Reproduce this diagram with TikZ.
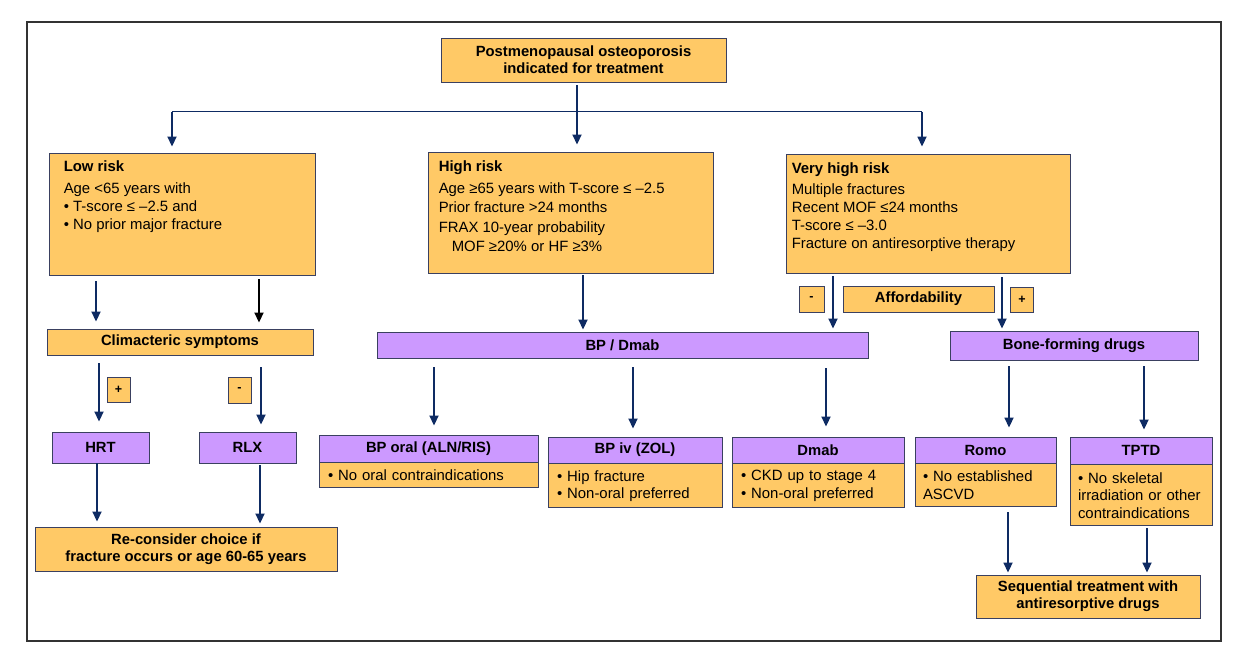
\documentclass[tikz,border=0pt]{standalone}
\usepackage{fontspec}
\setmainfont{Liberation Sans}
\usetikzlibrary{arrows.meta}
\definecolor{boxfill}{HTML}{FFC966}
\definecolor{drugfill}{HTML}{CC99FF}
\definecolor{edge}{HTML}{3A4060}
\definecolor{navy}{HTML}{0E2B63}
\definecolor{framec}{HTML}{333333}
\tikzset{
  obox/.style={draw=edge, fill=boxfill, line width=0.9pt, inner sep=0pt, align=center,
    font=\bfseries\fontsize{14.8}{17}\selectfont},
  pbox/.style={obox, fill=drugfill},
  sbox/.style={obox, font=\bfseries\fontsize{12.5}{14}\selectfont},
  lbox/.style={draw=edge, fill=boxfill, line width=0.9pt, inner ysep=0pt, inner xsep=9pt,
    align=left, anchor=north, font=\fontsize{14.9}{17.5}\selectfont},
  txt/.style={inner sep=0pt, anchor=north west, align=left, font=\fontsize{14.9}{18}\selectfont},
  arr/.style={draw=navy, line width=1.8pt, -{Triangle[width=9pt,length=10pt]}},
}
\begin{document}
\begin{tikzpicture}[x=1pt,y=-1pt]
  \useasboundingbox (0,0) rectangle (1238,658);
  \draw[framec,line width=1.1pt] (27,22) rectangle (1221,641);

  % Start and risk groups
  \node[obox, minimum width=285, minimum height=44] (top) at (583.5,60)
    {Postmenopausal osteoporosis\\indicated for treatment};
  \node[obox, minimum width=266, minimum height=122] (low) at (182,214) {};
  \node[obox, minimum width=285, minimum height=121] (high) at (570.5,212.5) {};
  \node[obox, minimum width=284, minimum height=119] (vhigh) at (928,213.5) {};
  \node[txt] (lowtxt) at ([xshift=15,yshift=-8.4]low.north west)
    {\textbf{Low risk}\\[4pt] Age <65 years with\\ • T-score ≤ –2.5 and\\ • No prior major fracture};
  \node[txt, font=\fontsize{14.9}{19.5}\selectfont] (hightxt) at ([xshift=11,yshift=-8.5]high.north west)
    {\textbf{High risk}\\[2.5pt] Age ≥65 years with T-score ≤ –2.5\\ Prior fracture >24 months\\
     FRAX 10-year probability\\ \hspace*{13pt}MOF ≥20\% or HF ≥3\%};
  \node[txt] (vhightxt) at ([xshift=6,yshift=-9.4]vhigh.north west)
    {\textbf{Very high risk}\\[3pt] Multiple fractures\\ Recent MOF ≤24 months\\ T-score ≤ –3.0\\
     Fracture on antiresorptive therapy};

  \coordinate (brL) at (172,112);
  \coordinate (brR) at (922,112);
  \draw[navy, line width=1pt] (brL) -- (brR);
  \draw[arr, shorten <=3pt, shorten >=7pt] ([xshift=-6.5]top.south) -- ([xshift=6.5]high.north);
  \draw[arr, shorten >=6pt] (brL) -- ([xshift=-10]low.north);
  \draw[arr, shorten >=7pt] (brR) -- ([xshift=-6]vhigh.north);

  % Low risk branch
  \node[obox, minimum width=266, minimum height=26] (clim) at (180,342) {Climacteric symptoms};
  \node[sbox, minimum width=23, minimum height=25] (cplus) at (118.5,389.5) {+};
  \node[sbox, minimum width=23, minimum height=26] (cminus) at (239.5,390) {-};
  \node[pbox, minimum width=97, minimum height=31] (hrt) at (100.5,447.5) {HRT};
  \node[pbox, minimum width=97, minimum height=31] (rlx) at (247.5,447.5) {RLX};
  \node[obox, minimum width=302, minimum height=44] (recon) at (186,549)
    {Re-consider choice if\\fracture occurs or age 60-65 years};

  \draw[arr, shorten <=6pt, shorten >=7pt] ([xshift=-86]low.south) -- ([xshift=-84]clim.north);
  \draw[arr, draw=black, shorten <=4pt, shorten >=6pt] ([xshift=77]low.south) -- ([xshift=79]clim.north);
  \draw[arr, shorten <=8pt, shorten >=10pt] ([xshift=-81]clim.south) -- ([xshift=-1.5]hrt.north);
  \draw[arr, shorten <=12pt, shorten >=7pt] ([xshift=81]clim.south) -- ([xshift=13.5]rlx.north);
  \draw[arr, shorten >=5pt] ([xshift=-3.5]hrt.south) -- ([xshift=-89]recon.north);
  \draw[arr, shorten <=2pt, shorten >=3pt] ([xshift=12.5]rlx.south) -- ([xshift=74]recon.north);

  % Antiresorptive and anabolic options
  \node[pbox, minimum width=491, minimum height=26] (bpdmab) at (622.5,345) {BP / Dmab};
  \node[sbox, minimum width=25, minimum height=26] (vminus) at (811.5,299) {-};
  \node[obox, minimum width=151, minimum height=26] (afford) at (918.5,299) {Affordability};
  \node[sbox, minimum width=23, minimum height=25] (vplus) at (1022,299.5) {+};
  \node[pbox, minimum width=248, minimum height=29] (bone) at (1074,345.5) {Bone-forming drugs};

  \draw[arr, shorten <=2pt, shorten >=2pt] ([xshift=12.5]high.south) -- ([xshift=-39.5]bpdmab.north);
  \draw[arr, shorten <=3pt, shorten >=3pt] ([xshift=-95]vhigh.south) -- ([xshift=210.5]bpdmab.north);
  \draw[arr, shorten <=4pt, shorten >=2pt] ([xshift=74]vhigh.south) -- ([xshift=-72]bone.north);

  \node[pbox, minimum width=219, minimum height=27] (bporal) at (428.5,448.5) {BP oral (ALN/RIS)};
  \node[lbox, minimum width=219, text width=201, minimum height=25] (bporalb) at (bporal.south)
    {• No oral contraindications};
  \node[pbox, minimum width=174, minimum height=26] (bpiv) at (635,450) {BP iv (ZOL)};
  \node[lbox, minimum width=174, text width=156, minimum height=44] (bpivb) at (bpiv.south)
    {• Hip fracture\\ • Non-oral preferred};
  \node[pbox, minimum width=172, minimum height=26] (dmab) at (818,450) {Dmab};
  \node[lbox, minimum width=172, text width=154, minimum height=44] (dmabb) at (dmab.south)
    {• CKD up to stage 4\\ • Non-oral preferred};
  \node[pbox, minimum width=141, minimum height=26] (romo) at (985.5,450) {Romo};
  \node[lbox, minimum width=141, text width=125, inner xsep=8pt, minimum height=43] (romob) at (romo.south)
    {• No established\\ ASCVD};
  \node[pbox, minimum width=142, minimum height=27] (tptd) at (1141,450.5) {TPTD};
  \node[lbox, minimum width=142, text width=126, inner xsep=8pt, minimum height=61] (tptdb) at (tptd.south)
    {• No skeletal\\ irradiation or other\\ contraindications};
  \node[obox, minimum width=224, minimum height=43] (seq) at (1088,596.5)
    {Sequential treatment with\\antiresorptive drugs};

  \draw[arr, shorten <=9pt, shorten >=9pt] ([xshift=-188.5]bpdmab.south) -- ([xshift=5.5]bporal.north);
  \draw[arr, shorten <=9pt, shorten >=8pt] ([xshift=10.5]bpdmab.south) -- ([xshift=-2]bpiv.north);
  \draw[arr, shorten <=10pt, shorten >=10pt] ([xshift=203.5]bpdmab.south) -- ([xshift=8]dmab.north);
  \draw[arr, shorten <=6pt, shorten >=9pt] ([xshift=-65]bone.south) -- ([xshift=23.5]romo.north);
  \draw[arr, shorten <=6pt, shorten >=7pt] ([xshift=70]bone.south) -- ([xshift=3]tptd.north);
  \draw[arr, shorten <=5pt, shorten >=2pt] ([xshift=22.5]romob.south) -- ([xshift=-80]seq.north);
  \draw[arr, shorten <=2pt, shorten >=2pt] ([xshift=6]tptdb.south) -- ([xshift=59]seq.north);
\end{tikzpicture}
\end{document}
